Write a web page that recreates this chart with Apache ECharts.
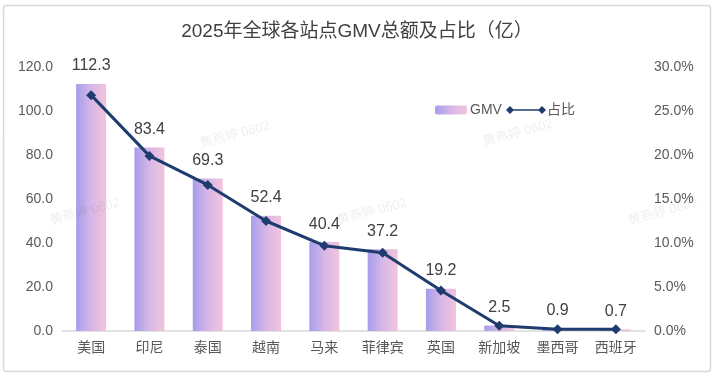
<!DOCTYPE html>
<html>
<head>
<meta charset="utf-8">
<script src="https://cdn.jsdelivr.net/npm/echarts@6/dist/echarts.min.js"></script>
<style>
html,body{margin:0;padding:0;background:#fff;}
#c{width:714px;height:383px;}
</style>
</head>
<body>
<div id="c"></div>
<script>
var categories = ['美国','印尼','泰国','越南','马来','菲律宾','英国','新加坡','墨西哥','西班牙'];
var gmvValues = [112.3, 83.4, 69.3, 52.4, 40.4, 37.2, 19.2, 2.5, 0.9, 0.7];
var shareValues = [26.8, 19.9, 16.6, 12.5, 9.7, 8.9, 4.6, 0.6, 0.2, 0.2];
var leftTicks = [0, 20, 40, 60, 80, 100, 120];
var rightTicks = [0, 5, 10, 15, 20, 25, 30];
var titleText = '2025年全球各站点GMV总额及占比（亿）';
var watermarkText = '黄燕婷 0602';

var FONT = '"Liberation Sans", "Noto Sans CJK SC", sans-serif';
var chart = echarts.init(document.getElementById('c'), null, {renderer: 'canvas'});

var barGrad = new echarts.graphic.LinearGradient(0, 0, 1, 0, [
  {offset: 0, color: '#a69dea'},
  {offset: 0.5, color: '#d7b7e7'},
  {offset: 1, color: '#f1c4dc'}
]);

var wm = [[235,135],[518,133],[85,212],[372,212],[663,212]].map(function(p){
  return {
    type: 'text', x: p[0], y: p[1], rotation: 0.26, silent: true, z: 100,
    style: {text: watermarkText, font: '13px ' + FONT, fill: 'rgba(0,0,0,0.07)', align: 'center', verticalAlign: 'middle'}
  };
});

var option = {
  animation: false,
  backgroundColor: '#fff',
  title: {
    text: titleText, left: 'center', top: 17,
    textStyle: {fontFamily: FONT, fontSize: 19, fontWeight: 'normal', color: '#404040'}
  },
  graphic: [{
    type: 'rect', shape: {x: 3.5, y: 5.5, width: 707, height: 366, r: 3}, silent: true, z: -1,
    style: {fill: 'none', stroke: '#d9d9d9', lineWidth: 1.5}
  }].concat(wm),
  legend: [{
    data: ['GMV'], left: 435, top: 103, padding: 0, itemWidth: 32, itemHeight: 9, itemGap: 0,
    textStyle: {fontFamily: FONT, fontSize: 14, color: '#595959', padding: [0,0,0,-2]}
  }, {
    data: [{name: '占比', icon: 'path://M0,5 L4,1 L8,5 L4,9 Z M6,4.2 L34,4.2 L34,5.8 L6,5.8 Z M32,5 L36,1 L40,5 L36,9 Z'}],
    left: 506, top: 103, padding: 0, itemWidth: 40, itemHeight: 10,
    textStyle: {fontFamily: FONT, fontSize: 14, color: '#595959', padding: [0,0,0,-4]}
  }],
  grid: {left: 62, right: 69, top: 67, bottom: 52},
  xAxis: {
    type: 'category', data: categories,
    axisLine: {lineStyle: {color: '#d9d9d9', width: 1.5}},
    axisTick: {show: false},
    axisLabel: {fontFamily: FONT, fontSize: 14, color: '#595959', margin: 10}
  },
  yAxis: [{
    type: 'value', min: leftTicks[0], max: leftTicks[leftTicks.length-1], interval: 20,
    axisLine: {show: false}, axisTick: {show: false}, splitLine: {show: false},
    axisLabel: {fontFamily: FONT, fontSize: 14, color: '#595959', margin: 9,
      formatter: function(v){ return v.toFixed(1); }}
  }, {
    type: 'value', min: rightTicks[0], max: rightTicks[rightTicks.length-1], interval: 5,
    axisLine: {show: false}, axisTick: {show: false}, splitLine: {show: false},
    axisLabel: {fontFamily: FONT, fontSize: 14, color: '#595959', margin: 9,
      formatter: function(v){ return v.toFixed(1) + '%'; }}
  }],
  series: [{
    name: 'GMV', type: 'bar', data: gmvValues, barWidth: 30, yAxisIndex: 0,
    itemStyle: {color: barGrad},
    label: {show: true, position: 'top', distance: 10, fontFamily: FONT, fontSize: 16, color: '#404040',
      formatter: function(p){ return p.value.toFixed(1); }}
  }, {
    name: '占比', type: 'line', data: shareValues, yAxisIndex: 1,
    symbol: 'diamond', symbolSize: 10, showSymbol: true,
    lineStyle: {color: '#1f3c6e', width: 3},
    itemStyle: {color: '#1f3c6e'}, z: 5
  }]
};
chart.setOption(option);
</script>
</body>
</html>
